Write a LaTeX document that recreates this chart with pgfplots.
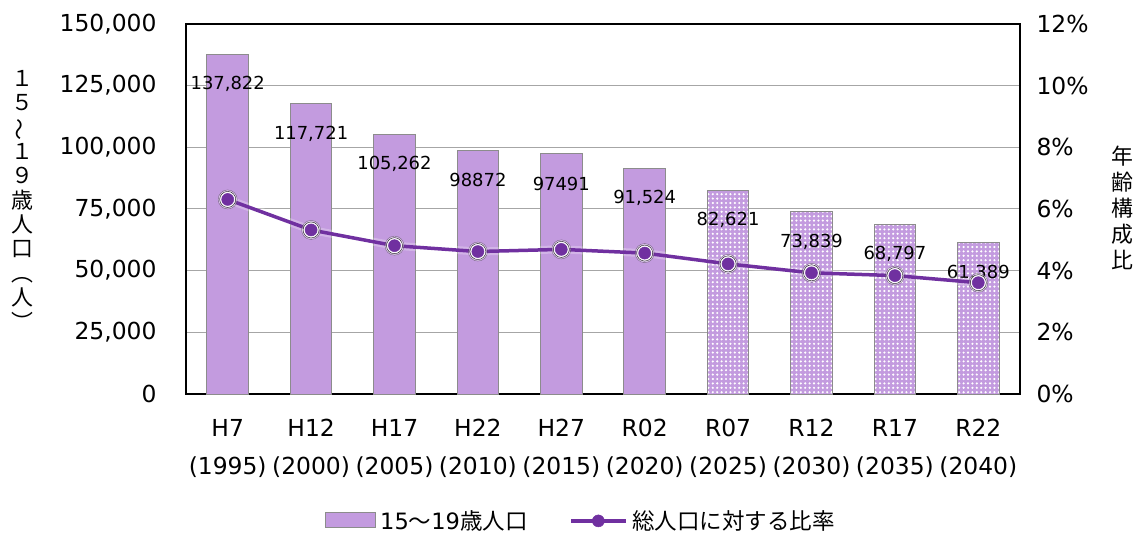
\documentclass[border=0pt]{standalone}
\usepackage{pgfplots}
\pgfplotsset{compat=1.18}
\usepackage{fontspec}
\setmainfont{DejaVu Sans}
\newfontfamily\jp{Noto Sans CJK JP}
\usetikzlibrary{patterns.meta}
\definecolor{barcol}{HTML}{C39BDF}
\definecolor{barline}{HTML}{8C8C8C}
\definecolor{linecol}{HTML}{7030A0}
\definecolor{gridcol}{HTML}{A6A6A6}

\pgfplotsset{
  linelegend/.style={legend image code/.code={\draw[##1, mark repeat=2, mark phase=2] plot coordinates {(0bp,0bp) (27bp,0bp) (55bp,0bp)};}},
  barlegend/.style={legend image code/.code={\draw[fill=barcol, draw=barline, line width=1bp] (0bp,-7bp) rectangle (50bp,8bp);}},
}

\pgfplotstableread{
x y lab
0 137822 137,822
1 117721 117,721
2 105262 105,262
3 98872 98872
4 97491 97491
5 91524 91,524
}\solid
\pgfplotstableread{
x y lab
6 82621 82,621
7 73839 73,839
8 68797 68,797
9 61389 61,389
}\future
\pgfplotstableread{
x y
0 6.31
1 5.32
2 4.81
3 4.62
4 4.69
5 4.57
6 4.22
7 3.93
8 3.84
9 3.61
}\ratio

\begin{document}
\begin{tikzpicture}
\pgfplotsset{
  common/.style={
    scale only axis, width=834bp, height=370bp,
    at={(0,0)}, anchor=south west,
    xmin=-0.5, xmax=9.5,
    major tick length=0,
    /pgf/number format/assume math mode=true,
    ticklabel style={font=\fontsize{23.5}{38}\selectfont},
  }
}
\begin{axis}[
  common,
  ymin=0, ymax=150000,
  xtick={0,...,9},
  xticklabels={{H7\\(1995)},{H12\\(2000)},{H17\\(2005)},{H22\\(2010)},{H27\\(2015)},{R02\\(2020)},{R07\\(2025)},{R12\\(2030)},{R17\\(2035)},{R22\\(2040)}},
  xticklabel style={align=center, yshift=-22bp},
  ytick={0,25000,...,150000},
  scaled y ticks=false,
  yticklabel style={/pgf/number format/fixed, /pgf/number format/1000 sep={,}, xshift=-26bp},
  ymajorgrids, grid style={gridcol, line width=1bp},
  axis line style={black, line width=1.5bp},
]
\addplot[ybar, bar width=0.5, bar shift=0pt, fill=barcol, draw=barline, line width=1bp,
  nodes near coords={\pgfplotspointmeta}, point meta=explicit symbolic,
  every node near coord/.append style={font=\fontsize{18}{20}\selectfont, anchor=center, yshift=-30bp, black}]
  table[x=x, y=y, meta=lab] {\solid};
\addplot[ybar, bar width=0.5, bar shift=0pt, fill=barcol, draw=barline, line width=1bp,
  postaction={pattern={Dots[radius=1.2bp, distance=4.4bp]}, pattern color=white},
  nodes near coords={\pgfplotspointmeta}, point meta=explicit symbolic,
  every node near coord/.append style={font=\fontsize{18}{20}\selectfont, anchor=center, yshift=-30bp, black}]
  table[x=x, y=y, meta=lab] {\future};
\end{axis}
\begin{axis}[
  common,
  ymin=0, ymax=12,
  axis y line*=right, axis x line=none,
  ytick={0,2,...,12},
  yticklabel={\pgfmathprintnumber{\tick}\%},
  yticklabel style={xshift=13bp},
  axis line style={black, line width=1.5bp},
  legend style={at={(0.4736,-0.343)}, anchor=center, draw=none, fill=none,
    legend columns=2, font=\fontsize{22.6}{26}\selectfont,
    /tikz/every even column/.append style={column sep=40bp},
    /tikz/every odd column/.append style={column sep=2bp}},
  legend cell align=left,
]
\addlegendimage{barlegend}
\addlegendentry{15{\jp ～}19{\jp 歳人口}}
\addplot[forget plot, line width=8bp, opacity=0.25, white] table {\ratio};
\addplot[forget plot, only marks, mark=*, mark size=9.5bp, mark options={draw=none, fill=white, opacity=0.45}] table {\ratio};
\addplot[forget plot, only marks, mark=*, mark size=8bp, mark options={draw=none, fill=white, opacity=0.9}] table {\ratio};
\addplot[linecol, line width=3.5bp, mark=*, mark size=6bp, mark options={fill=linecol, draw=linecol, line width=0.5bp}, linelegend]
  table {\ratio};
\addlegendentry{\jp 総人口に対する比率}
\end{axis}
\node[align=center, font=\jp\fontsize{22}{24.5}\selectfont] at (-164bp,194bp)
  {１\\５\\\rotatebox[origin=c]{90}{～}\\１\\９\\歳\\人\\口\\︵\\人\\︶};
\node[align=center, font=\jp\fontsize{22}{26}\selectfont] at (936bp,186bp)
  {年\\齢\\構\\成\\比};
\pgfresetboundingbox
\path (-186bp,-139bp) rectangle (956bp,394bp);
\end{tikzpicture}
\end{document}
